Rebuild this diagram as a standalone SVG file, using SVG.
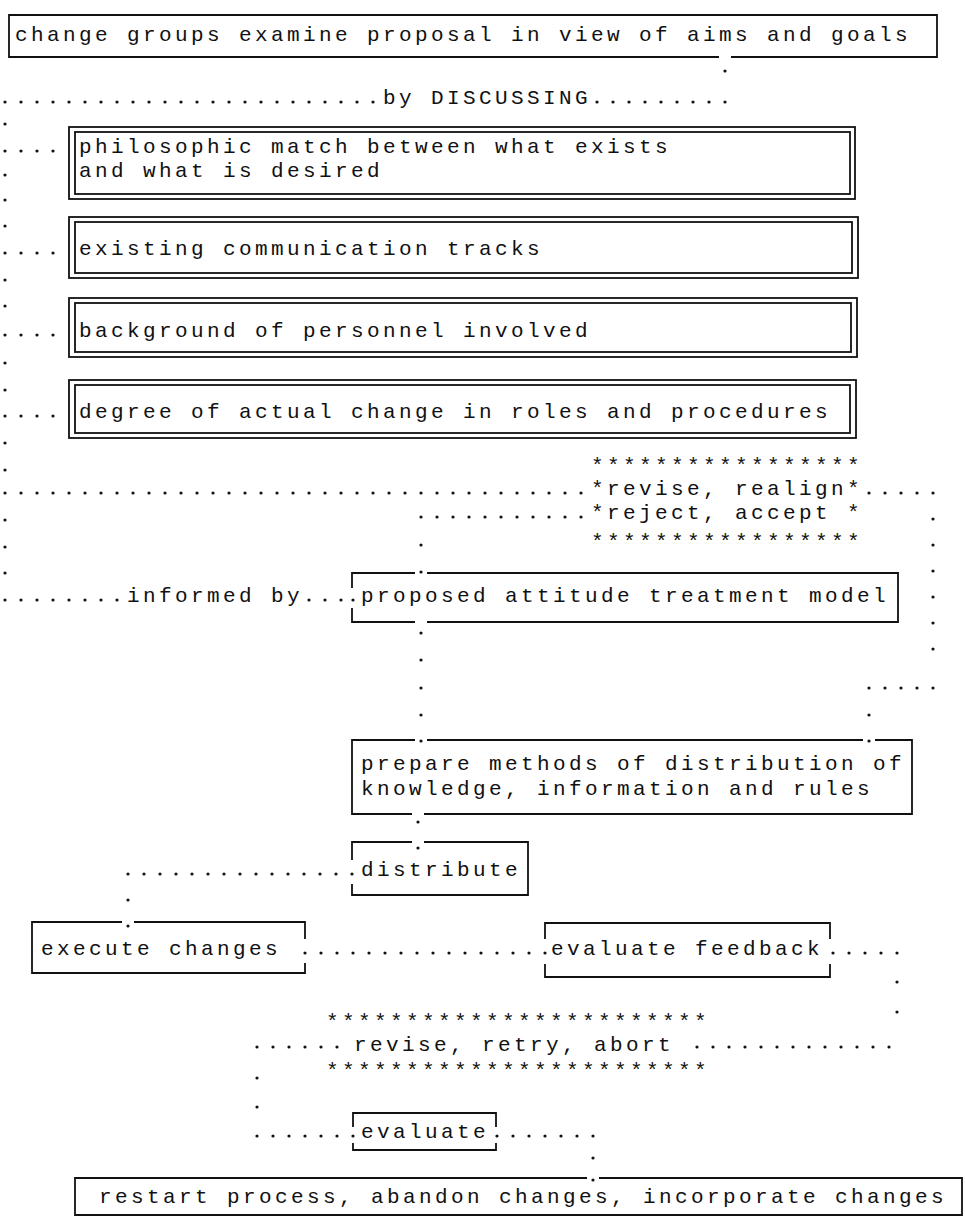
<svg xmlns="http://www.w3.org/2000/svg" width="965" height="1226" viewBox="0 0 965 1226">
<style>
.t{font-family:"Liberation Mono","DejaVu Sans Mono",monospace;font-size:21px;letter-spacing:3.4px;fill:#111}
.b{fill:none;stroke:#111;stroke-width:1.8}
.d{fill:none;stroke:#111;stroke-width:3.2;stroke-linecap:round;stroke-dasharray:0 16}
.p{fill:none;stroke:#111;stroke-width:3.2;stroke-linecap:round}
</style>
<rect width="965" height="1226" fill="#fff"/>
<g id="connectors">
<path class="p" d="M725 71h0"/>
<path class="d" d="M5 102H373.5M597 102H725.5"/>
<text class="t" x="383" y="104">by DISCUSSING</text>
<path class="p" d="M5 124h0M5 175h0M5 200h0M5 226h0M5 280h0M5 306h0M5 363h0M5 390h0M5 443h0M5 470h0M5 520h0M5 547h0M5 573h0"/>
<path class="d" d="M5 151H53.5M5 253H53.5M5 335H53.5M5 416H53.5"/>
<path class="d" d="M5 493H581.5M869 493H933.5M421 517H581.5M869 688H933.5"/>
<path class="p" d="M933 519h0M933 545h0M933 571h0M933 597h0M933 623h0M933 649h0M869 715h0M869 741h0"/>
<path class="p" d="M421 545h0M421 572h0M421 633h0M421 660h0M421 688h0M421 715h0M421 741h0"/>
<path class="d" d="M5 600H117.5M309 600H341.5"/>
<path class="p" d="M353 600h0"/>
<text class="t" x="127" y="602">informed by</text>
<path class="p" d="M418 822h0M418 848h0"/>
<path class="d" d="M128 874H352.5"/>
<path class="p" d="M128 900h0M128 926h0"/>
<path class="d" d="M305 953H545.5M833 953H897.5"/>
<path class="p" d="M897 982h0M897 1012h0"/>
<path class="d" d="M257 1047H337.5M697 1047H897.5"/>
<path class="p" d="M257 1078h0M257 1107h0"/>
<path class="d" d="M257 1136H353.5M497 1136H593.5"/>
<path class="p" d="M593 1158h0M593 1180h0"/>
</g>
<g id="n-top">
<path class="b" d="M719 57H9V15H937V57H731"/>
<text class="t" x="15" y="41">change groups examine proposal in view of aims and goals</text>
</g>
<g id="n-philosophic">
<rect class="b" x="69" y="127" width="786" height="72"/>
<rect class="b" x="75" y="132" width="775" height="62"/>
<text class="t" x="79" y="153">philosophic match between what exists</text>
<text class="t" x="79" y="177">and what is desired</text>
</g>
<g id="n-existing">
<rect class="b" x="69" y="217" width="789" height="61"/>
<rect class="b" x="75" y="222" width="777" height="51"/>
<text class="t" x="79" y="255">existing communication tracks</text>
</g>
<g id="n-background">
<rect class="b" x="69" y="298" width="788" height="59"/>
<rect class="b" x="75" y="303" width="776" height="49"/>
<text class="t" x="79" y="337">background of personnel involved</text>
</g>
<g id="n-degree">
<rect class="b" x="69" y="380" width="787" height="58"/>
<rect class="b" x="75" y="385" width="775" height="48"/>
<text class="t" x="79" y="418">degree of actual change in roles and procedures</text>
</g>
<g id="n-revise-realign">
<text class="t" x="591" y="472">*****************</text>
<text class="t" x="591" y="495">*revise, realign*</text>
<text class="t" x="591" y="519">*reject, accept *</text>
<text class="t" x="591" y="548">*****************</text>
</g>
<g id="n-proposed">
<path class="b" d="M352 588V573H415M427 573H898V622H427M415 622H352V608"/>
<text class="t" x="361" y="602">proposed attitude treatment model</text>
</g>
<g id="n-prepare">
<path class="b" d="M415 740H352V814H412M424 814H912V740H875M863 740H427"/>
<text class="t" x="361" y="770">prepare methods of distribution of</text>
<text class="t" x="361" y="795">knowledge, information and rules</text>
</g>
<g id="n-distribute">
<path class="b" d="M352 860V842H412M424 842H528V895H352V884"/>
<text class="t" x="361" y="876">distribute</text>
</g>
<g id="n-execute">
<path class="b" d="M305 939V922H134M122 922H32V973H305V963"/>
<text class="t" x="41" y="955">execute changes</text>
</g>
<g id="n-feedback">
<path class="b" d="M545 939V923H830V939M830 964V977H545V964"/>
<text class="t" x="551" y="955">evaluate feedback</text>
</g>
<g id="n-revise-retry">
<text class="t" x="326" y="1028">************************</text>
<text class="t" x="354" y="1051">revise, retry, abort</text>
<text class="t" x="326" y="1077">************************</text>
</g>
<g id="n-evaluate">
<path class="b" d="M353 1127V1113H496V1127M496 1143V1150H353V1143"/>
<text class="t" x="361" y="1138">evaluate</text>
</g>
<g id="n-restart">
<path class="b" d="M587 1178H75V1215H962V1178H599"/>
<text class="t" x="99" y="1203">restart process, abandon changes, incorporate changes</text>
</g>
</svg>
